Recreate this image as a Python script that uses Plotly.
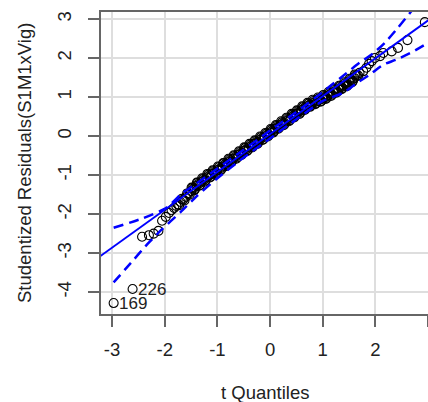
import plotly.graph_objects as go

# ---- data ----
tail_lo_x = [-2.97, -2.61, -2.43, -2.30, -2.21, -2.12, -2.05, -1.98, -1.92, -1.87, -1.82, -1.78]
tail_lo_y = [-4.28, -3.92, -2.58, -2.54, -2.50, -2.43, -2.17, -2.07, -1.97, -1.90, -1.84, -1.79]

mid_x = [-1.75, -1.70, -1.65, -1.60, -1.55, -1.50, -1.45, -1.40, -1.35, -1.30, -1.25, -1.20,
         -1.15, -1.10, -1.05, -1.00, -0.95, -0.90, -0.85, -0.80, -0.75, -0.70, -0.65, -0.60,
         -0.55, -0.50, -0.45, -0.40, -0.35, -0.30, -0.25, -0.20, -0.15, -0.10, -0.05, 0.00,
         0.05, 0.10, 0.15, 0.20, 0.25, 0.30, 0.35, 0.40, 0.45, 0.50, 0.55, 0.60,
         0.65, 0.70, 0.75, 0.80, 0.85, 0.90, 0.95, 1.00, 1.05, 1.10, 1.15, 1.20,
         1.25, 1.30, 1.35, 1.40, 1.45, 1.50, 1.55, 1.60, 1.65, 1.70]
mid_y = [-1.75, -1.69, -1.63, -1.56, -1.48, -1.41, -1.34, -1.28, -1.22, -1.17, -1.12, -1.06,
         -1.01, -0.97, -0.92, -0.87, -0.83, -0.78, -0.72, -0.67, -0.62, -0.58, -0.53, -0.48,
         -0.43, -0.38, -0.34, -0.29, -0.24, -0.20, -0.15, -0.10, -0.05, -0.01, 0.04, 0.09,
         0.14, 0.19, 0.24, 0.29, 0.33, 0.38, 0.43, 0.48, 0.53, 0.57, 0.62, 0.67,
         0.72, 0.76, 0.80, 0.84, 0.87, 0.90, 0.93, 0.96, 1.00, 1.04, 1.08, 1.12,
         1.16, 1.20, 1.25, 1.29, 1.33, 1.38, 1.43, 1.49, 1.55, 1.62]

mid2_x = [-1.725, -1.675, -1.625, -1.575, -1.525, -1.475, -1.425, -1.375, -1.325, -1.275,
          -1.225, -1.175, -1.125, -1.075, -1.025, -0.975, -0.925, -0.875, -0.825, -0.775,
          -0.725, -0.675, -0.625, -0.575, -0.525, -0.475, -0.425, -0.375, -0.325, -0.275,
          -0.225, -0.175, -0.125, -0.075, -0.025, 0.025, 0.075, 0.125, 0.175, 0.225,
          0.275, 0.325, 0.375, 0.425, 0.475, 0.525, 0.575, 0.625, 0.675, 0.725,
          0.775, 0.825, 0.875, 0.925, 0.975, 1.025, 1.075, 1.125, 1.175, 1.225,
          1.275, 1.325, 1.375, 1.425, 1.475, 1.525, 1.575, 1.625, 1.675]
mid2_y = [-1.77, -1.61, -1.65, -1.47, -1.50, -1.33, -1.36, -1.20, -1.25, -1.10,
          -1.14, -0.99, -1.04, -0.90, -0.94, -0.80, -0.85, -0.70, -0.74, -0.60,
          -0.65, -0.51, -0.55, -0.41, -0.45, -0.31, -0.36, -0.22, -0.27, -0.13,
          -0.17, -0.03, -0.08, 0.06, 0.02, 0.16, 0.12, 0.26, 0.22, 0.35,
          0.31, 0.45, 0.41, 0.55, 0.51, 0.64, 0.60, 0.74, 0.70, 0.83,
          0.78, 0.90, 0.84, 0.96, 0.90, 1.02, 0.98, 1.10, 1.06, 1.18,
          1.14, 1.27, 1.23, 1.35, 1.31, 1.45, 1.42, 1.56, 1.55]

mid3_x = [-1.49, -1.44, -1.39, -1.34, -1.29, -1.24, -1.19, -1.14, -1.09, -1.04,
          -0.99, -0.94, -0.89, -0.84, -0.79, -0.74, -0.69, -0.64, -0.59, -0.54,
          -0.49, -0.44, -0.39, -0.34, -0.29, -0.24, -0.19, -0.14, -0.09, -0.04,
          0.01, 0.06, 0.11, 0.16, 0.21, 0.26, 0.31, 0.36, 0.41, 0.46,
          0.51, 0.56, 0.61, 0.66, 0.71, 0.76, 0.81, 0.86, 0.91, 0.96,
          1.01, 1.06, 1.11, 1.16, 1.21, 1.26, 1.31, 1.36, 1.41, 1.46,
          1.51, 1.56, 1.61]
mid3_y = [-1.32, -1.39, -1.19, -1.27, -1.08, -1.17, -0.97, -1.06, -0.88, -0.97,
          -0.78, -0.88, -0.69, -0.77, -0.58, -0.67, -0.49, -0.58, -0.39, -0.48,
          -0.29, -0.39, -0.20, -0.29, -0.11, -0.20, -0.01, -0.10, 0.08, -0.01,
          0.18, 0.09, 0.28, 0.19, 0.38, 0.28, 0.47, 0.38, 0.57, 0.48,
          0.66, 0.57, 0.76, 0.67, 0.85, 0.75, 0.93, 0.82, 0.99, 0.88,
          1.05, 0.95, 1.13, 1.03, 1.21, 1.11, 1.29, 1.20, 1.38, 1.28,
          1.47, 1.38, 1.58]

tail_hi_x = [1.77, 1.83, 1.88, 1.93, 1.99, 2.09, 2.15, 2.31, 2.43, 2.61, 2.94]
tail_hi_y = [1.66, 1.75, 1.85, 1.92, 2.00, 2.05, 2.13, 2.17, 2.26, 2.46, 2.92]

# reference line (intercept, slope) and envelope
ref_intercept = 0.05
ref_slope = 0.97
ref_x_ends = [-3.4, 3.4]

upper_x = [-2.97, -2.40, -1.97, -1.68, -1.40, -1.00, -0.50, 0.00, 0.50, 1.00, 1.45, 1.70, 1.96, 2.18, 2.40, 2.66, 2.97]
upper_y = [-2.35, -2.10, -1.84, -1.48, -1.22, -0.83, -0.35, 0.14, 0.62, 1.13, 1.61, 1.88, 2.12, 2.39, 2.73, 3.16, 3.70]
lower_x = [-2.97, -2.59, -2.37, -2.06, -1.70, -1.40, -1.00, -0.50, 0.00, 0.50, 1.00, 1.39, 1.65, 1.90, 2.15, 2.40, 2.72, 3.00]
lower_y = [-3.75, -3.17, -2.83, -2.40, -1.95, -1.55, -1.08, -0.55, -0.06, 0.43, 0.90, 1.11, 1.36, 1.58, 1.83, 1.96, 2.17, 2.39]

outlier_ids = ["169", "226"]
outlier_x = [-2.97, -2.61]
outlier_y = [-4.28, -3.92]

x_ticks = [-3, -2, -1, 0, 1, 2, 3]
y_ticks = [-4, -3, -2, -1, 0, 1, 2, 3]

# ---- figure ----
pts_x = tail_lo_x + mid_x + mid2_x + mid3_x + tail_hi_x
pts_y = tail_lo_y + mid_y + mid2_y + mid3_y + tail_hi_y

FONT = "Liberation Sans, Arial, Helvetica, sans-serif"
FS = 18.5
BLUE = "#0000ff"

fig = go.Figure()
fig.add_trace(go.Scatter(x=pts_x, y=pts_y, mode="markers",
                         marker=dict(symbol="circle-open", size=9, color="black",
                                     line=dict(width=1.1, color="black")),
                         cliponaxis=False, showlegend=False))
ref_y_ends = [ref_intercept + ref_slope * v for v in ref_x_ends]
fig.add_trace(go.Scatter(x=ref_x_ends, y=ref_y_ends, mode="lines",
                         line=dict(color=BLUE, width=2), showlegend=False))
for ex, ey in ((upper_x, upper_y), (lower_x, lower_y)):
    fig.add_trace(go.Scatter(x=ex, y=ey, mode="lines",
                             line=dict(color=BLUE, width=2.5, dash="10px,6px",
                                       shape="spline", smoothing=0.6),
                             showlegend=False))

for t, xx, yy in zip(outlier_ids, outlier_x, outlier_y):
    fig.add_annotation(x=xx, y=yy, text=t, showarrow=False, xanchor="left", yanchor="middle",
                       xshift=3, font=dict(family=FONT, size=17, color="#222"))

plot_w = 428 - 101
plot_h = 402 - 12 - 88
fig.add_annotation(x=0.5, y=-(392 - 314) / plot_h, xref="paper", yref="paper", text="t Quantiles",
                   showarrow=False, xanchor="center", yanchor="middle",
                   font=dict(family=FONT, size=FS, color="#222"))
fig.add_annotation(x=(24 - 101) / plot_w, y=0.5, xref="paper", yref="paper",
                   text="Studentized Residuals(S1M1xVig)",
                   showarrow=False, xanchor="center", yanchor="middle", textangle=-90,
                   font=dict(family=FONT, size=FS, color="#222"))

axis_common = dict(showgrid=True, gridcolor="#dedede", gridwidth=1.5, zeroline=False,
                   showline=True, linecolor="#666666", linewidth=1.5,
                   ticks="outside", ticklen=11, tickwidth=1.5, tickcolor="#666666",
                   tickfont=dict(family=FONT, size=FS, color="#222"))

fig.update_layout(
    width=428, height=402, autosize=False,
    margin=dict(l=101, r=0, t=12, b=88),
    paper_bgcolor="white", plot_bgcolor="white",
    xaxis=dict(range=[-3.21, 3.0], tickvals=x_ticks, ticktext=[str(v) for v in x_ticks],
               mirror=True, ticklabelstandoff=7, **axis_common),
    yaxis=dict(range=[-4.56, 3.18], tickvals=y_ticks, ticktext=[str(v) for v in y_ticks],
               tickangle=-90, ticklabelstandoff=10, **axis_common),
)

fig.write_html("out.html")
